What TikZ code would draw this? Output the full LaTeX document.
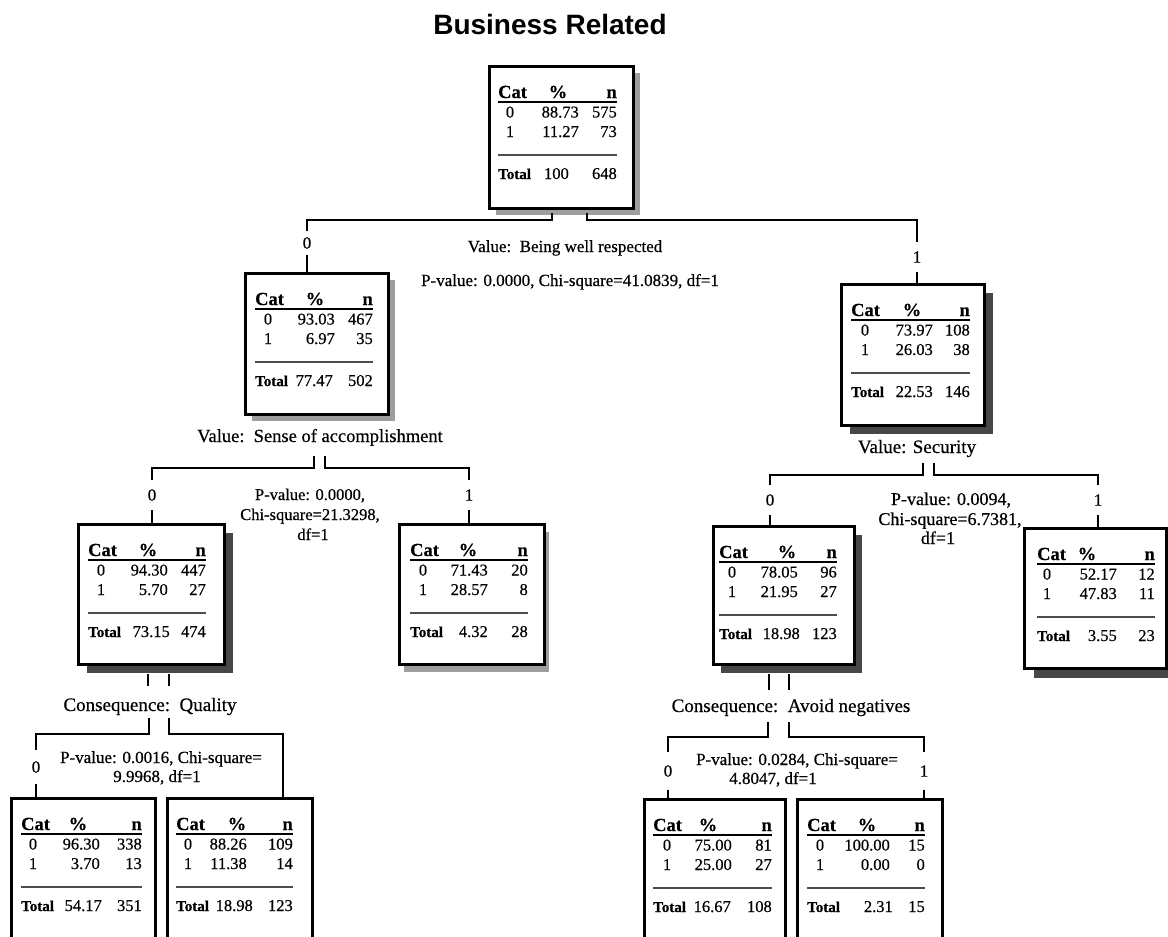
\documentclass[tikz,border=0pt]{standalone}
\usepackage{fontspec}
\setmainfont{Liberation Serif}[FakeBold=0.5]
\newfontfamily\titlefont{Liberation Sans}
\newcommand{\myfs}[1]{\fontsize{#1}{#1}\selectfont}
\tikzset{
  box/.style={draw=black, line width=2.6pt, fill=white, inner sep=0pt, anchor=north west},
  conn/.style={line width=1.5pt, draw=black},
  lsh/.style={fill=black!38},
  dsh/.style={fill=black!72},
  hdr/.style={inner sep=0pt, font=\bfseries\myfs{18.5}},
  num/.style={inner sep=0pt, font=\myfs{16.5}},
  tot/.style={inner sep=0pt, font=\bfseries\myfs{15}},
  uline/.style={line width=2pt, draw=black},
  sline/.style={line width=1.5pt, draw=black!70},
  brlab/.style={inner xsep=2pt, font=\myfs{17}},
  lab/.style={inner sep=0pt, anchor=base},
}
\def\qrH{33}\def\qrU{36.5}\def\qrA{52.5}\def\qrB{72}\def\qrS{90}\def\qrT{114}
\newcommand{\setcols}[6]{\def\qL{#1}\def\qZ{#2}\def\qP{#3}\def\qPR{#4}\def\qTR{#5}\def\qNR{#6}}
\newcommand{\tbl}[8]{%
  \node[hdr, anchor=base west] (#1-hc) at (\qL,\qrH) {Cat};
  \node[hdr, anchor=base] (#1-hp) at (\qP,\qrH) {\%};
  \node[hdr, anchor=base east] (#1-hn) at ({#2-\qNR},\qrH) {n};
  \draw[uline] (\qL,\qrU) -- ({#2-\qNR},\qrU);
  \node[num, anchor=base] (#1-c0) at (\qZ,\qrA) {0};
  \node[num, anchor=base east] (#1-p0) at (\qPR,\qrA) {#3};
  \node[num, anchor=base east] (#1-n0) at ({#2-\qNR},\qrA) {#4};
  \node[num, anchor=base] (#1-c1) at (\qZ,\qrB) {1};
  \node[num, anchor=base east] (#1-p1) at (\qPR,\qrB) {#5};
  \node[num, anchor=base east] (#1-n1) at ({#2-\qNR},\qrB) {#6};
  \draw[sline] (\qL,\qrS) -- ({#2-\qNR},\qrS);
  \node[tot, anchor=base west] (#1-tl) at (\qL,\qrT) {Total};
  \node[num, anchor=base east] (#1-tp) at (\qTR,\qrT) {#7};
  \node[num, anchor=base east] (#1-tn) at ({#2-\qNR},\qrT) {#8};
}
\begin{document}
\begin{tikzpicture}[x=1pt,y=-1pt]
\useasboundingbox (0,0) rectangle (1168,937);
\begin{scope}
\clip (0,0) rectangle (1168,937);
\fill[white] (0,0) rectangle (1168,937);

% title
\node[font=\titlefont\bfseries\myfs{28}, inner sep=0pt, anchor=base] (title) at (550,34) {Business Related};

% shadows
\fill[lsh] (496,73) rectangle (640,215);
\fill[lsh] (252,280) rectangle (395,421);
\fill[dsh] (850,293) rectangle (993,434);
\fill[dsh] (87,533) rectangle (233,673);
\fill[lsh] (404,532) rectangle (549,672);
\fill[dsh] (721,535) rectangle (862,673);
\fill[dsh] (1034,538) rectangle (1180,678);

% boxes
\node[box, minimum width=144pt, minimum height=142pt] (root) at (488,65) {};
\node[box, minimum width=143pt, minimum height=141pt] (L) at (244,272) {};
\node[box, minimum width=143pt, minimum height=141pt] (R) at (840,283) {};
\node[box, minimum width=146pt, minimum height=140pt] (LL) at (77,523) {};
\node[box, minimum width=145pt, minimum height=140pt] (LR) at (398,523) {};
\node[box, minimum width=141pt, minimum height=138pt] (RL) at (712,525) {};
\node[box, minimum width=142pt, minimum height=140pt] (RR) at (1023,527) {};
\node[box, minimum width=144pt, minimum height=170pt] (LLL) at (10,797) {};
\node[box, minimum width=145pt, minimum height=170pt] (LLR) at (166,797) {};
\node[box, minimum width=141pt, minimum height=170pt] (RLL) at (643,798) {};
\node[box, minimum width=145pt, minimum height=170pt] (RLR) at (796,798) {};

% tables
\setcols{10}{22}{70}{91}{81}{15}
\begin{scope}[shift={(488,65)}]\tbl{root}{144}{88.73}{575}{11.27}{73}{100}{648}\end{scope}
\setcols{11}{24}{71}{91}{89}{14}
\begin{scope}[shift={(244,272)}]\tbl{Lt}{143}{93.03}{467}{6.97}{35}{77.47}{502}\end{scope}
\setcols{11}{25}{72}{93}{93}{13}
\begin{scope}[shift={(840,283)}]\tbl{Rt}{143}{73.97}{108}{26.03}{38}{22.53}{146}\end{scope}
\setcols{11}{24}{71}{91}{93}{17}
\begin{scope}[shift={(77,523)}]\tbl{LLt}{146}{94.30}{447}{5.70}{27}{73.15}{474}\end{scope}
\setcols{12}{25}{70}{90}{90}{15}
\begin{scope}[shift={(398,523)}]\tbl{LRt}{145}{71.43}{20}{28.57}{8}{4.32}{28}\end{scope}
\setcols{7}{20}{75}{86}{88}{16}
\begin{scope}[shift={(712,525)}]\tbl{RLt}{141}{78.05}{96}{21.95}{27}{18.98}{123}\end{scope}
\setcols{14}{24}{64}{94}{94}{10}
\begin{scope}[shift={(1023,527)}]\tbl{RRt}{142}{52.17}{12}{47.83}{11}{3.55}{23}\end{scope}
\setcols{11}{23}{68}{90}{92}{12}
\begin{scope}[shift={(10,797)}]\tbl{LLLt}{144}{96.30}{338}{3.70}{13}{54.17}{351}\end{scope}
\setcols{10}{22}{71}{81}{87}{18}
\begin{scope}[shift={(166,797)}]\tbl{LLRt}{145}{88.26}{109}{11.38}{14}{18.98}{123}\end{scope}
\setcols{10}{24}{65}{89}{88}{12}
\begin{scope}[shift={(643,798)}]\tbl{RLLt}{141}{75.00}{81}{25.00}{27}{16.67}{108}\end{scope}
\setcols{11}{24}{71}{94}{97}{16}
\begin{scope}[shift={(796,798)}]\tbl{RLRt}{145}{100.00}{15}{0.00}{0}{2.31}{15}\end{scope}

% split labels
\node[lab, font=\myfs{17}] (v1) at (565,252) {Value:\ \ Being well respected};
\node[lab, font=\myfs{17}] (p1) at (570,286) {P-value: 0.0000, Chi-square=41.0839, df=1};
\node[lab, font=\myfs{18.5}] (v2) at (320,442) {Value:\ \ Sense of accomplishment};
\node[lab, font=\myfs{16.5}] (p2a) at (310,500) {P-value: 0.0000,};
\node[lab, font=\myfs{16.5}] (p2b) at (310,520) {Chi-square=21.3298,};
\node[lab, font=\myfs{16.5}] (p2c) at (313,540) {df=1};
\node[lab, font=\myfs{19}] (v3) at (917,453) {Value: Security};
\node[lab, font=\myfs{18}] (p3a) at (951,505) {P-value: 0.0094,};
\node[lab, font=\myfs{18}] (p3b) at (950,525) {Chi-square=6.7381,};
\node[lab, font=\myfs{18}] (p3c) at (938,544) {df=1};
\node[lab, font=\myfs{19}] (cq1) at (150,711) {Consequence:\ \ Quality};
\node[lab, font=\myfs{19}] (cq2) at (791,712) {Consequence:\ \ Avoid negatives};
\node[lab, font=\myfs{17}] (p4a) at (161,763) {P-value: 0.0016, Chi-square=};
\node[lab, font=\myfs{17}] (p4b) at (157,782) {9.9968, df=1};
\node[lab, font=\myfs{17}] (p5a) at (797,765) {P-value: 0.0284, Chi-square=};
\node[lab, font=\myfs{17}] (p5b) at (773,784) {4.8047, df=1};

% branch labels
\node[brlab, inner ysep=6.5pt] (z1) at (307,243) {0};
\node[brlab, inner ysep=9pt] (o1) at (917,257) {1};
\node[brlab, inner ysep=9pt] (z2) at (152,495) {0};
\node[brlab, inner ysep=9pt] (o2) at (469,495) {1};
\node[brlab, inner ysep=9pt] (z3) at (770,500) {0};
\node[brlab, inner ysep=9pt] (o3) at (1098,500) {1};
\node[brlab, inner ysep=11.5pt] (z4) at (36,767) {0};
\node[brlab, inner ysep=13pt] (z5) at (668,771) {0};
\node[brlab, inner ysep=13pt] (o5) at (924,771) {1};

% connector coordinates
\coordinate (t1a) at (552,213); \coordinate (t1b) at (587,213);
\coordinate (h1a) at (307,220); \coordinate (h1b) at (917,220);
\coordinate (t2a) at (314,456); \coordinate (t2b) at (325,456);
\coordinate (h2a) at (152,468); \coordinate (h2b) at (469,468);
\coordinate (t3a) at (923,463); \coordinate (t3b) at (934,463);
\coordinate (h3a) at (770,475); \coordinate (h3b) at (1098,475);
\coordinate (u4a) at (148,674); \coordinate (u4a2) at (148,686);
\coordinate (u4b) at (169,674); \coordinate (u4b2) at (169,686);
\coordinate (t4a) at (149,718); \coordinate (t4b) at (169,718);
\coordinate (h4a) at (36,734); \coordinate (h4b) at (283,734);
\coordinate (u5a) at (769,674); \coordinate (u5a2) at (769,690);
\coordinate (u5b) at (789,674); \coordinate (u5b2) at (789,690);
\coordinate (t5a) at (768,722); \coordinate (t5b) at (789,722);
\coordinate (h5a) at (668,737); \coordinate (h5b) at (924,737);

% connectors
\draw[conn] (t1a) |- (h1a) -- (z1.north);
\draw[conn] (z1.south) -- (z1.south |- L.north);
\draw[conn] (t1b) |- (h1b) -- (o1.north);
\draw[conn] (o1.south) -- (o1.south |- R.north);

\draw[conn] (t2a) |- (h2a) -- (z2.north);
\draw[conn] (z2.south) -- (z2.south |- LL.north);
\draw[conn] (t2b) |- (h2b) -- (o2.north);
\draw[conn] (o2.south) -- (o2.south |- LR.north);

\draw[conn] (t3a) |- (h3a) -- (z3.north);
\draw[conn] (z3.south) -- (z3.south |- RL.north);
\draw[conn] (t3b) |- (h3b) -- (o3.north);
\draw[conn] (o3.south) -- (o3.south |- RR.north);

\draw[conn] (u4a) -- (u4a2);
\draw[conn] (u4b) -- (u4b2);
\draw[conn] (t4a) |- (h4a) -- (z4.north);
\draw[conn] (z4.south) -- (z4.south |- LLL.north);
\draw[conn] (t4b) |- (h4b) -- (h4b |- LLR.north);

\draw[conn] (u5a) -- (u5a2);
\draw[conn] (u5b) -- (u5b2);
\draw[conn] (t5a) |- (h5a) -- (z5.north);
\draw[conn] (z5.south) -- (z5.south |- RLL.north);
\draw[conn] (t5b) |- (h5b) -- (o5.north);
\draw[conn] (o5.south) -- (o5.south |- RLR.north);
\end{scope}
\end{tikzpicture}
\end{document}
